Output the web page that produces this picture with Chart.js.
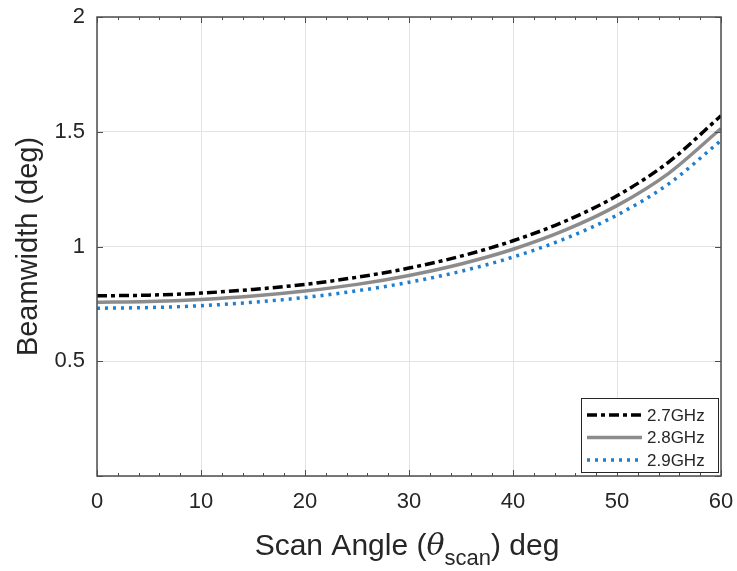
<!DOCTYPE html>
<html>
<head>
<meta charset="utf-8">
<script src="https://cdn.jsdelivr.net/npm/chart.js@4"></script>
<style>
  html, body { margin: 0; padding: 0; background: #fff; }
  #wrap { width: 737px; height: 571px; }
</style>
</head>
<body>
<div id="wrap"><canvas id="beam-chart" width="737" height="571"></canvas></div>
<script>
// scan angle (deg) and beamwidth (deg)
const scanAngles = [0, 5, 10, 15, 20, 25, 30, 35, 40, 45, 50, 55, 60];
const bw27 = [0.785, 0.788, 0.797, 0.813, 0.835, 0.866, 0.906, 0.958, 1.025, 1.110, 1.221, 1.369, 1.570];
const bw28 = [0.757, 0.760, 0.769, 0.784, 0.806, 0.835, 0.874, 0.924, 0.988, 1.071, 1.178, 1.320, 1.514];
const bw29 = [0.731, 0.734, 0.742, 0.757, 0.778, 0.807, 0.844, 0.892, 0.954, 1.034, 1.137, 1.274, 1.462];
const seriesLabels = ['2.7GHz', '2.8GHz', '2.9GHz'];
const xTicks = [0, 10, 20, 30, 40, 50, 60];
const yTicks = [0, 0.5, 1, 1.5, 2];

const FONT = "'Liberation Sans', Arial, sans-serif";
const AXIS_COLOR = '#4d4d4d';

function toPoints(ys) {
  return scanAngles.map((x, i) => ({ x: x, y: ys[i] }));
}

// matlab style box, inward ticks, legend and x label with subscript
const matlabAxes = {
  id: 'matlabAxes',
  afterDraw(chart) {
    const ctx = chart.ctx;
    const a = chart.chartArea;
    const xs = chart.scales.x, ys = chart.scales.y;
    ctx.save();
    ctx.strokeStyle = AXIS_COLOR;
    ctx.lineWidth = 1;
    ctx.beginPath();
    // minor x ticks every 2
    for (let v = 0; v <= 60; v += 2) {
      const px = Math.round(xs.getPixelForValue(v)) + 0.5;
      const len = v % 10 === 0 ? 6 : 3;
      ctx.moveTo(px, a.bottom); ctx.lineTo(px, a.bottom - len);
      ctx.moveTo(px, a.top); ctx.lineTo(px, a.top + len);
    }
    yTicks.forEach(v => {
      const py = Math.round(ys.getPixelForValue(v)) + 0.5;
      ctx.moveTo(a.left, py); ctx.lineTo(a.left + 6, py);
      ctx.moveTo(a.right, py); ctx.lineTo(a.right - 6, py);
    });
    ctx.stroke();
    ctx.lineWidth = 1.5;
    ctx.strokeRect(a.left, a.top, a.right - a.left, a.bottom - a.top);

    // legend
    const bx = 581, by = 398, bw = 137, bh = 74;
    ctx.fillStyle = '#fff';
    ctx.fillRect(bx, by, bw, bh);
    ctx.lineWidth = 1;
    ctx.strokeStyle = '#262626';
    ctx.strokeRect(bx + 0.5, by + 0.5, bw, bh);
    ctx.font = '17px ' + FONT;
    ctx.textBaseline = 'middle';
    chart.data.datasets.forEach((ds, i) => {
      const cy = by + 17 + i * 22.5;
      ctx.beginPath();
      ctx.strokeStyle = ds.borderColor;
      ctx.lineWidth = ds.borderWidth;
      ctx.setLineDash(ds.borderDash || []);
      ctx.moveTo(bx + 6, cy);
      ctx.lineTo(bx + 61, cy);
      ctx.stroke();
      ctx.setLineDash([]);
      ctx.fillStyle = '#262626';
      ctx.fillText(ds.label, bx + 66, cy + 1);
    });

    // x axis title: Scan Angle (θ_scan) deg
    const big = '30px ' + FONT;
    const small = '22px ' + FONT;
    const parts = [
      { t: 'Scan Angle (', f: big, dy: 0 },
      { t: 'θ', f: 'italic 30px ' + "'DejaVu Serif', serif", dy: 0 },
      { t: 'scan', f: small, dy: 10 },
      { t: ') deg', f: big, dy: 0 }
    ];
    let total = 0;
    parts.forEach(p => { ctx.font = p.f; p.w = ctx.measureText(p.t).width; total += p.w; });
    let x = (a.left + a.right) / 2 - total / 2 - 2;
    const baseY = 555;
    ctx.fillStyle = '#262626';
    ctx.textBaseline = 'alphabetic';
    parts.forEach(p => {
      ctx.font = p.f;
      ctx.fillText(p.t, x, baseY + p.dy);
      x += p.w;
    });
    ctx.restore();
  }
};

const ctx = document.getElementById('beam-chart').getContext('2d');
const beamChart = new Chart(ctx, {
  type: 'line',
  data: {
    datasets: [
      {
        label: seriesLabels[0],
        data: toPoints(bw27),
        borderColor: '#000000',
        borderWidth: 3.5,
        borderDash: [10, 4, 4, 4],
        cubicInterpolationMode: 'monotone',
        pointRadius: 0,
        fill: false
      },
      {
        label: seriesLabels[1],
        data: toPoints(bw28),
        borderColor: '#8c8c8c',
        borderWidth: 3.5,
        cubicInterpolationMode: 'monotone',
        pointRadius: 0,
        fill: false
      },
      {
        label: seriesLabels[2],
        data: toPoints(bw29),
        borderColor: '#1f7fcf',
        borderWidth: 3.5,
        borderDash: [3, 5],
        cubicInterpolationMode: 'monotone',
        pointRadius: 0,
        fill: false
      }
    ]
  },
  options: {
    responsive: false,
    animation: false,
    layout: { padding: { top: 17, right: 16, left: 0, bottom: 0 } },
    plugins: {
      legend: { display: false },
      tooltip: { enabled: false }
    },
    scales: {
      x: {
        type: 'linear',
        min: 0,
        max: 60,
        afterBuildTicks: s => { s.ticks = xTicks.map(v => ({ value: v })); },
        afterFit: s => { s.height = 95; s.paddingLeft = 0; s.paddingRight = 0; },
        grid: { color: '#e3e3e3', drawTicks: false },
        border: { display: false },
        ticks: {
          padding: 13,
          color: '#262626',
          font: { family: FONT, size: 22 }
        },
        title: { display: false }
      },
      y: {
        min: 0,
        max: 2,
        afterBuildTicks: s => { s.ticks = yTicks.map(v => ({ value: v })); },
        afterFit: s => { s.width = 97; s.paddingTop = 0; s.paddingBottom = 0; },
        grid: { color: '#e3e3e3', drawTicks: false },
        border: { display: false },
        ticks: {
          padding: 12,
          color: '#262626',
          font: { family: FONT, size: 22 },
          callback: v => (v === 0 ? '' : String(v))
        },
        title: {
          display: true,
          text: 'Beamwidth (deg)',
          color: '#262626',
          font: { family: FONT, size: 29 },
          padding: { top: 12, bottom: 0 }
        }
      }
    }
  },
  plugins: [matlabAxes]
});
</script>
</body>
</html>
